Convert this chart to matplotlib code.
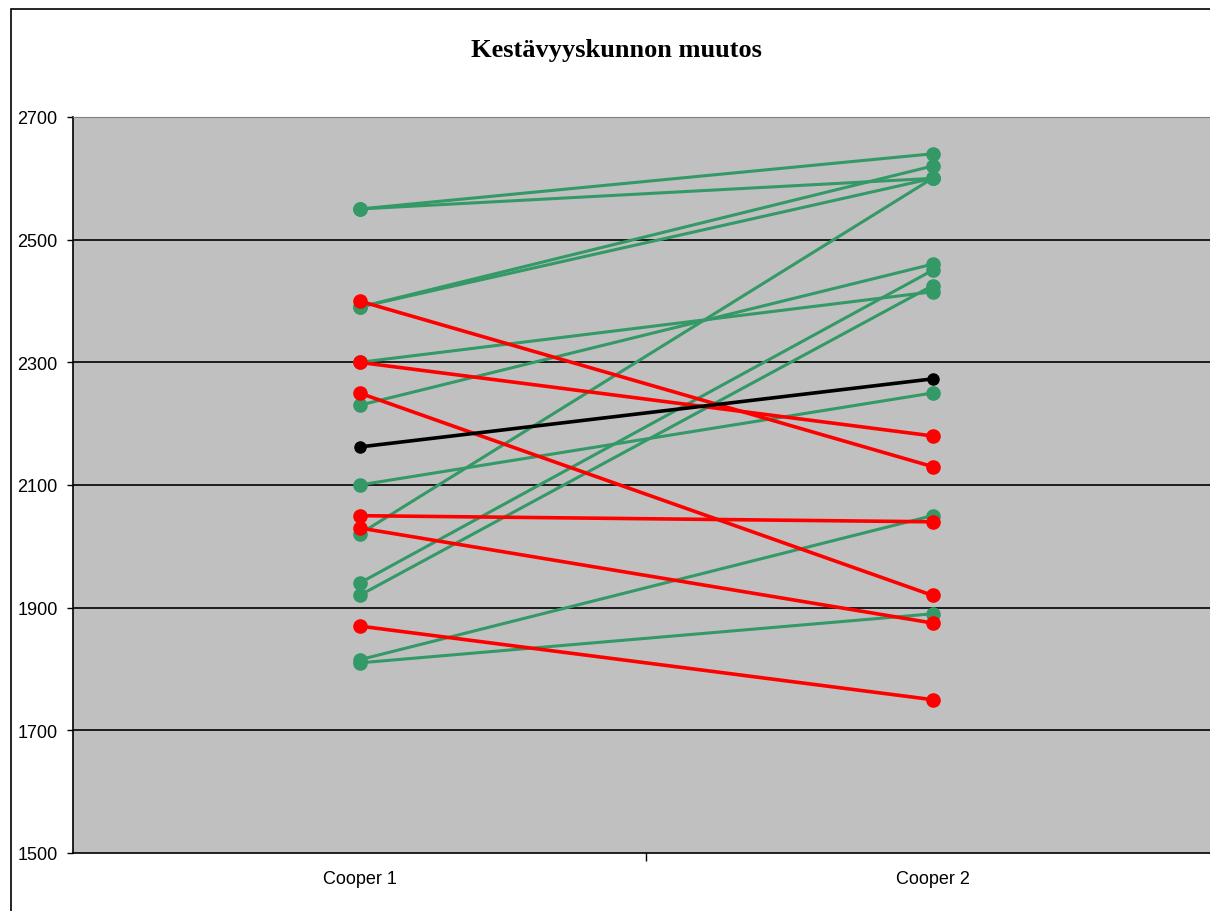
import matplotlib

matplotlib.use("Agg")
import matplotlib.pyplot as plt
from matplotlib.patches import Rectangle

# Cooper test results (metres), first and second test
categories = ["Cooper 1", "Cooper 2"]

improved_1 = [2550, 2550, 2390, 2390, 2300, 2230, 2100, 2020, 1940, 1920, 1815, 1810]
improved_2 = [2640, 2600, 2620, 2600, 2415, 2460, 2250, 2600, 2450, 2425, 2050, 1890]

declined_1 = [2400, 2300, 2250, 2050, 2030, 1870]
declined_2 = [2130, 2180, 1920, 2040, 1875, 1750]

mean_values = [2162, 2273]

y_ticks = [1500, 1700, 1900, 2100, 2300, 2500, 2700]

GREEN = "#339966"
RED = "#ff0000"

W, H = 1210, 912
fig = plt.figure(figsize=(W / 100, H / 100), dpi=100)
fig.patch.set_facecolor("white")

# chart border
fig.add_artist(Rectangle((11 / W, -0.1), 1.2, 1.1 - 10 / H, transform=fig.transFigure,
                         fill=False, edgecolor="black", linewidth=1.2))

ax = fig.add_axes([73 / W, (H - 854) / H, 1146 / W, (854 - 118) / H])
ax.set_facecolor("#c0c0c0")

x = list(range(len(categories)))
for a, b in zip(improved_1, improved_2):
    ax.plot(x, [a, b], color=GREEN, lw=2.2, marker="o", ms=9.5, zorder=3)
for a, b in zip(declined_1, declined_2):
    ax.plot(x, [a, b], color=RED, lw=2.6, marker="o", ms=9.5, zorder=4)
ax.plot(x, mean_values, color="black", lw=2.6, marker="o", ms=8, zorder=5)

for t in y_ticks[1:-1]:
    ax.axhline(t, color="black", lw=1.2, zorder=1)

ax.set_xlim(-0.5, 1.5)
ax.set_ylim(y_ticks[0], y_ticks[-1])
ax.set_yticks(y_ticks)
ax.set_yticklabels([str(t) for t in y_ticks], fontsize=13, family="Liberation Sans")
ax.set_xticks([0.5])
ax.set_xticklabels([""])
for xi, lab in zip(x, categories):
    ax.text(xi, -26 / 736, lab, transform=ax.get_xaxis_transform(), ha="center", va="center",
            fontsize=13, family="Liberation Sans")
ax.tick_params(axis="y", direction="out", length=4, width=1, pad=7)
ax.tick_params(axis="x", direction="out", length=6, width=1)

ax.spines["left"].set_linewidth(1.2)
ax.spines["bottom"].set_linewidth(1.2)
ax.spines["top"].set_color("#808080")
ax.spines["right"].set_visible(False)

fig.text(616 / W, 1 - 51 / H, "Kestävyyskunnon muutos", ha="center", va="center",
         fontsize=19, fontweight="bold", family="Liberation Serif")

fig.savefig("out.png", dpi=100)
